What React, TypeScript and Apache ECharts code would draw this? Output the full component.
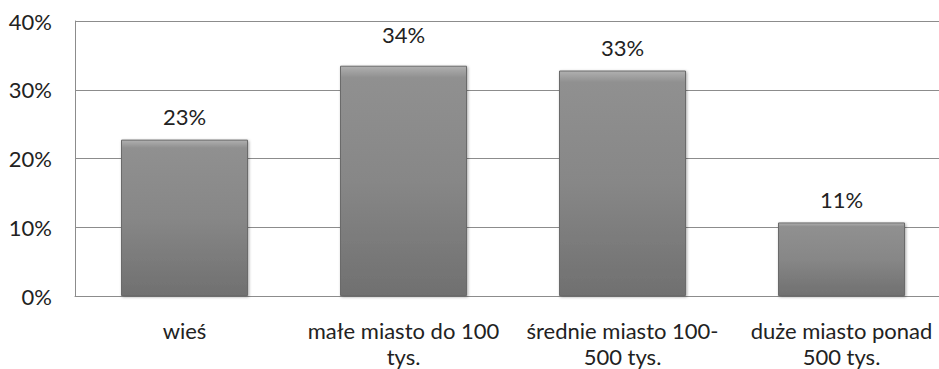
import React, { useEffect, useRef } from "react";
import * as echarts from "echarts";

const categories = ["wieś", "małe miasto do 100\ntys.", "średnie miasto 100-\n500 tys.", "duże miasto ponad\n500 tys."];
const values = [22.75, 33.5, 32.8, 10.7];
const dataLabels = ["23%", "34%", "33%", "11%"];
const yTicks = [0, 10, 20, 30, 40];

export default function App() {
  const ref = useRef<HTMLDivElement>(null);
  useEffect(() => {
    document.body.style.margin = "0";
    const chart = echarts.init(ref.current!, null, { renderer: "svg" });
    const font = "Lato, 'Open Sans', sans-serif";
    chart.setOption({
      animation: false,
      backgroundColor: "#ffffff",
      grid: { left: 75, top: 21, width: 876, height: 276, containLabel: false },
      xAxis: {
        type: "category",
        data: categories,
        axisLine: { show: true, lineStyle: { color: "#8c8c8c", width: 1 } },
        axisTick: { show: false },
        axisLabel: {
          color: "#222222",
          fontFamily: font,
          fontSize: 22,
          lineHeight: 26,
          margin: 21,
          interval: 0,
        },
      },
      yAxis: {
        type: "value",
        min: yTicks[0],
        max: yTicks[yTicks.length - 1],
        interval: 10,
        axisLine: { show: true, lineStyle: { color: "#8c8c8c", width: 1 } },
        axisTick: { show: false },
        splitLine: { show: true, lineStyle: { color: "#8c8c8c", width: 1 } },
        axisLabel: {
          color: "#222222",
          fontFamily: font,
          fontSize: 22,
          margin: 23,
          formatter: (v: number) => v + "%",
        },
      },
      series: [
        {
          type: "bar",
          barWidth: 127,
          data: values.map((v, i) => ({
            value: v,
            label: { formatter: dataLabels[i], distance: i === 1 ? 20 : 12 },
          })),
          itemStyle: {
            color: new echarts.graphic.LinearGradient(0, 0, 0, 1, [
              { offset: 0, color: "#b0b0b0" },
              { offset: 0.05, color: "#909090" },
              { offset: 0.5, color: "#878787" },
              { offset: 1, color: "#707070" },
            ]),
            borderColor: "#6a6a6a",
            borderWidth: 1,
            shadowBlur: 3,
            shadowColor: "rgba(0,0,0,0.35)",
            shadowOffsetX: 1,
            shadowOffsetY: 1,
          },
          label: {
            show: true,
            position: "top",
            color: "#222222",
            fontFamily: font,
            fontSize: 22,
          },
        },
      ],
    });
    return () => chart.dispose();
  }, []);
  return (
    <div style={{ width: 939, height: 369, overflow: "hidden", position: "relative" }}>
      <div ref={ref} style={{ width: 960, height: 369 }} />
    </div>
  );
}
